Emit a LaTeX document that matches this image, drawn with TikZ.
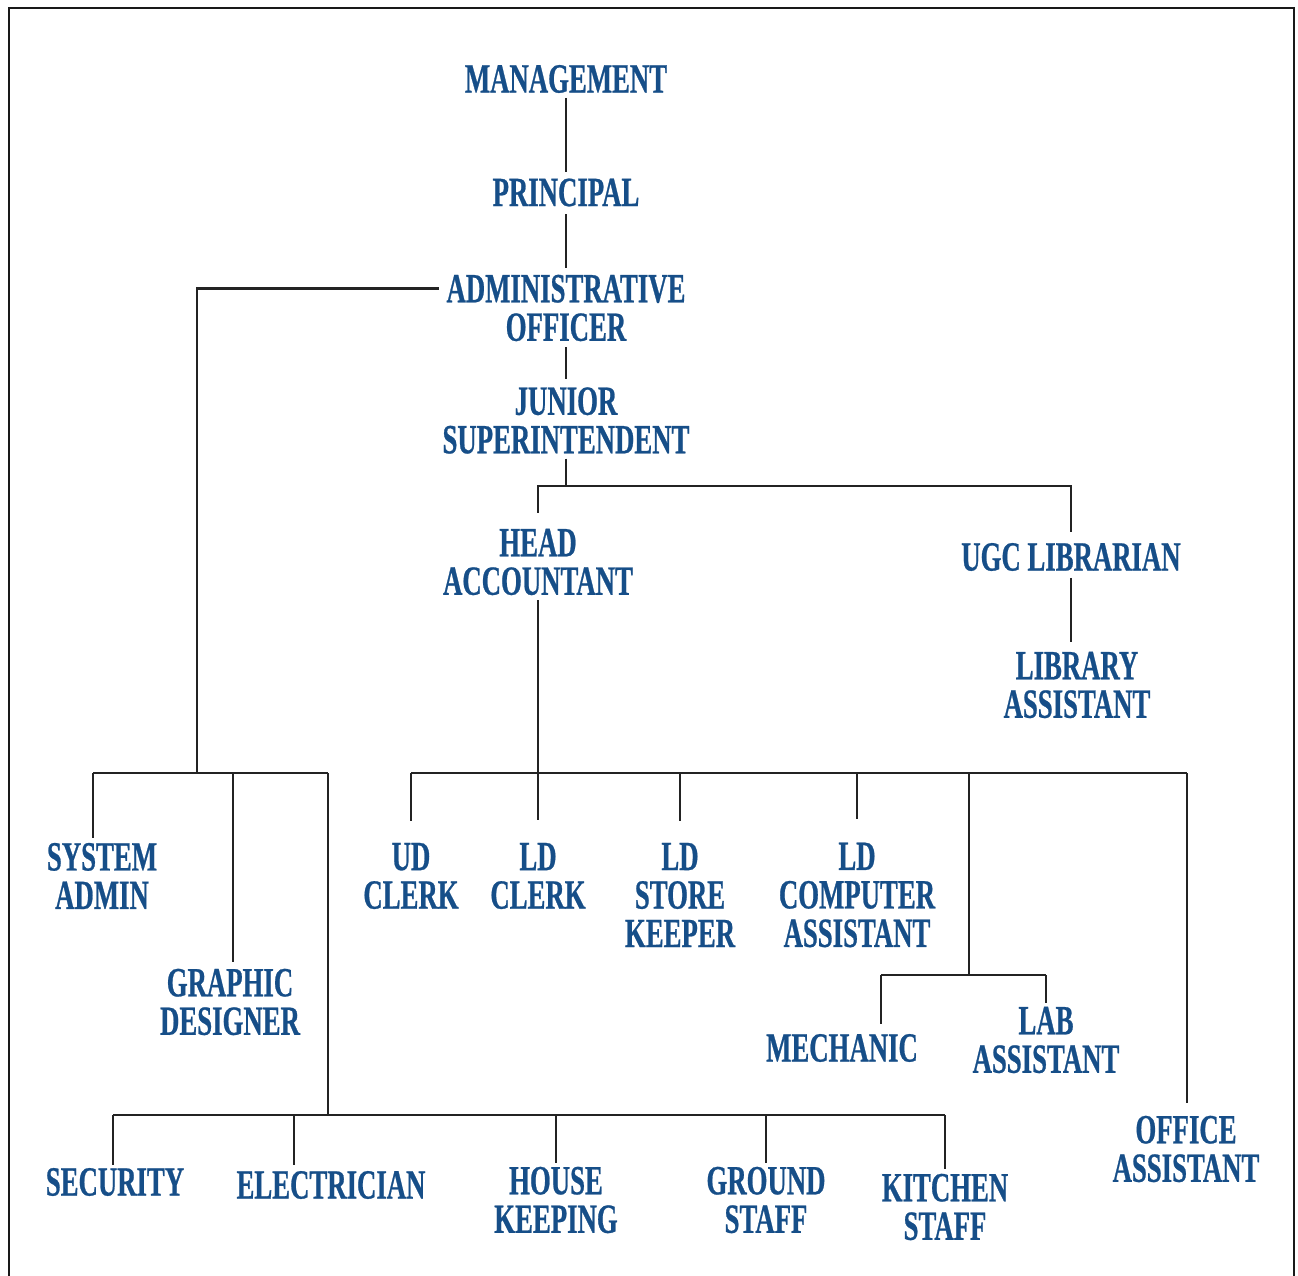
\documentclass[tikz,border=0pt]{standalone}
\usepackage{fontspec}
\setmainfont{Liberation Serif}[FakeStretch=0.645]
\newfontfamily\orgfont{Liberation Serif}[FakeStretch=0.645, FakeBold=0.6]
\definecolor{orgblue}{RGB}{22,78,136}
\definecolor{linegray}{RGB}{35,35,35}
\tikzset{
  role/.style={text=orgblue, font=\orgfont\fontsize{41.5}{38.5}\selectfont\bfseries, align=center, inner sep=0pt, outer sep=0pt},
  link/.style={draw=linegray, line width=2.3pt},
  frame/.style={draw=black!90, line width=2.8pt}
}
\begin{document}
\begin{tikzpicture}[x=1pt,y=-1pt]
\useasboundingbox (0,0) rectangle (1298,1275);
\fill[white] (0,0) rectangle (1298,1275);
\draw[frame] (9,1276) -- (9,8) -- (1294,8) -- (1294,1276);

% nodes
\node[role] (mgmt) at (566,79) {MANAGEMENT};
\node[role] (prin) at (566,192.5) {PRINCIPAL};
\node[role] (admin) at (566,308) {ADMINISTRATIVE\\OFFICER};
\node[role] (jun) at (566,420.5) {JUNIOR\\SUPERINTENDENT};
\node[role] (head) at (538,562) {HEAD\\ACCOUNTANT};
\node[role] (ugc) at (1071,557) {UGC LIBRARIAN};
\node[role] (libas) at (1077,685) {LIBRARY\\ASSISTANT};
\node[role] (sys) at (102,876) {SYSTEM\\ADMIN};
\node[role] (ud) at (411,876) {UD\\CLERK};
\node[role] (ldc) at (538,876) {LD\\CLERK};
\node[role] (store) at (680,895) {LD\\STORE\\KEEPER};
\node[role] (comp) at (857,895) {LD\\COMPUTER\\ASSISTANT};
\node[role] (graph) at (230,1002) {GRAPHIC\\DESIGNER};
\node[role] (mech) at (842,1048) {MECHANIC};
\node[role] (lab) at (1046,1040) {LAB\\ASSISTANT};
\node[role] (office) at (1186,1149) {OFFICE\\ASSISTANT};
\node[role] (sec) at (115,1182) {SECURITY};
\node[role] (elec) at (331,1185) {ELECTRICIAN};
\node[role] (house) at (556,1200) {HOUSE\\KEEPING};
\node[role] (ground) at (766,1200) {GROUND\\STAFF};
\node[role] (kitchen) at (945,1207) {KITCHEN\\STAFF};

% junction coordinates
\coordinate (ljun) at (197,773);
\coordinate (lL) at (93,773);
\coordinate (lG) at (233,773);
\coordinate (lR) at (328,773);
\coordinate (bL) at (113,1115);
\coordinate (bE) at (294,1115);
\coordinate (bR) at (328,1115);
\coordinate (bH) at (556,1115);
\coordinate (bG) at (766,1115);
\coordinate (bK) at (945,1115);
\coordinate (jbar) at (566,486);
\coordinate (mL) at (411,773);
\coordinate (mS) at (680,773);
\coordinate (mC) at (857,773);
\coordinate (mM) at (969,773);
\coordinate (mO) at (1187,773);
\coordinate (sj) at (969,975);
\coordinate (sL) at (881,975);
\coordinate (sR) at (1046,975);

% top chain
\draw[link, shorten <=5pt, shorten >=7pt] (mgmt.south) -- (prin.north);
\draw[link, shorten <=8pt, shorten >=7pt] (prin.south) -- (admin.north);
\draw[link, shorten <=6pt, shorten >=8pt] (admin.south) -- (jun.north);
\draw[link, shorten <=5pt] (jun.south) -- (jbar);
\draw[link, shorten >=16pt] (jbar) -| (head.north);
\draw[link, shorten >=11pt] (jbar) -| (ugc.north);
\draw[link, shorten <=7pt, shorten >=10pt] (ugc.south) -- (ugc.south |- libas.north);

% left branch
\draw[link, shorten <=8pt] ([yshift=19.5pt]admin.west) -| (ljun);
\draw[link] (lL) -- (lR);
\draw[link, shorten >=5pt] (lL) -- (lL |- sys.north);
\draw[link, shorten >=7pt] (lG) -- (lG |- graph.north);
\draw[link] (lR) -- (bR);
\draw[link] (bL) -- (bK);
\draw[link, shorten >=3pt] (bL) -- (bL |- sec.north);
\draw[link, shorten >=6pt] (bE) -- (bE |- elec.north);
\draw[link, shorten >=4pt] (bH) -- (house.north);
\draw[link, shorten >=4pt] (bG) -- (ground.north);
\draw[link, shorten >=5pt] (bK) -- (kitchen.north);

% middle branch
\draw[link, shorten <=5pt, shorten >=23pt] (head.south) -- (ldc.north);
\draw[link] (mL) -- (mO);
\draw[link, shorten >=22pt] (mL) -- (ud.north);
\draw[link, shorten >=22pt] (mS) -- (store.north);
\draw[link, shorten >=24pt] (mC) -- (comp.north);
\draw[link, shorten >=13pt] (mO) -- (mO |- office.north);
\draw[link] (mM) -- (sj);
\draw[link] (sL) -- (sR);
\draw[link, shorten >=10pt] (sL) -- (sL |- mech.north);
\draw[link, shorten >=4pt] (sR) -- (lab.north);
\end{tikzpicture}
\end{document}
